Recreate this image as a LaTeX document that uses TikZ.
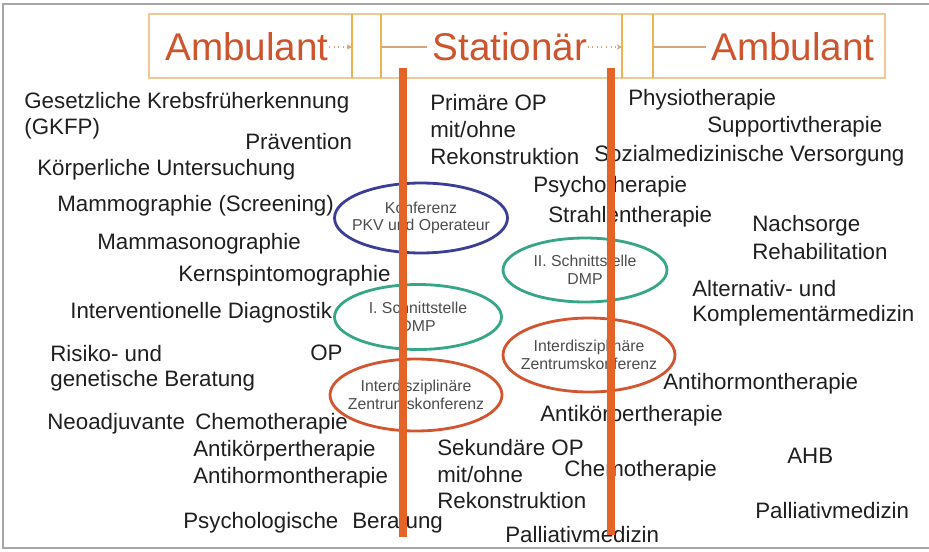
\documentclass[tikz,border=0pt]{standalone}
\usepackage{fontspec}
\setmainfont{Liberation Sans}
\usetikzlibrary{shapes.geometric,arrows.meta}

\definecolor{hdrred}{RGB}{205,85,45}
\definecolor{barorange}{RGB}{228,100,40}
\definecolor{boxline}{RGB}{242,200,150}
\definecolor{sepline}{RGB}{238,178,80}
\definecolor{konfblue}{RGB}{60,62,150}
\definecolor{dmpgreen}{RGB}{55,165,135}
\definecolor{zentred}{RGB}{210,85,50}

\tikzset{
  item/.style={anchor=west, inner sep=0pt, font=\fontsize{12.7}{14}\selectfont, text=black!88},
  hdr/.style={inner sep=0pt, font=\fontsize{22}{24}\selectfont, text=hdrred},
  conf/.style={ellipse, draw, line width=1.6pt, inner xsep=-6pt, inner ysep=0pt, align=center,
    font=\fontsize{9}{10}\selectfont, text=black!70},
  hdrline/.style={draw=orange!50!gray!70, line width=0.6pt},
}

\begin{document}
\begin{tikzpicture}[x=0.02cm, y=-0.02cm]
    \useasboundingbox (0,0) rectangle (929,551);
    % frame
    \draw[gray!70, line width=0.8pt] (929,4) -- (3,4) -- (3,548) -- (929,548);

    % header box
    \node[draw=boxline, line width=0.8pt, minimum width=14.72cm, minimum height=1.28cm] (header) at (517,46) {};
    \foreach \x/\n in {352/s1, 381/s2, 622/s3, 653/s4} {
        \draw[sepline, line width=1pt] (\x,14) -- (\x,78);
        \coordinate (\n) at (\x,47);
    }
    \node[hdr] (ambL) at (247,47) {Ambulant};
    \node[hdr] (stat) at (510,47) {Stationär};
    \node[hdr] (ambR) at (793,47) {Ambulant};
    \draw[hdrline, dotted, -{Stealth[length=3pt,width=3pt]}] (ambL.east) -- (s1);
    \draw[hdrline] (s2) -- ([xshift=-3pt]stat.west);
    \draw[hdrline, dotted, -{Stealth[length=3pt,width=3pt]}] (stat.east) -- (s3);
    \draw[hdrline] (s4) -- ([xshift=-3pt]ambR.west);

    % ellipses
    \node[conf, draw=konfblue, minimum width=3.46cm, minimum height=1.4cm] (konf) at (421,218) {Konferenz\\PKV und Operateur};
    \node[conf, draw=dmpgreen, minimum width=3.34cm, minimum height=1.3cm] (dmpI) at (418,317) {I. Schnittstelle\\DMP};
    \node[conf, draw=zentred, minimum width=3.44cm, minimum height=1.44cm] (zentL) at (416,395) {Interdisziplinäre\\Zentrumskonferenz};
    \node[conf, draw=dmpgreen, minimum width=3.28cm, minimum height=1.28cm] (dmpII) at (585,270) {II. Schnittstelle\\DMP};
    \node[conf, draw=zentred, minimum width=3.44cm, minimum height=1.48cm] (zentR) at (589,355) {Interdisziplinäre\\Zentrumskonferenz};

    % left column
    \foreach \x/\y/\t [count=\i] in {24/103/{Gesetzliche Krebsfrüherkennung}, 24/129/{(GKFP)},
        245/142/{Prävention}, 37/170/{Körperliche Untersuchung}, 57/206/{Mammographie (Screening)},
        97/244/{Mammasonographie}, 178/276/{Kernspintomographie}, 70/313/{Interventionelle Diagnostik},
        50/354/{Risiko- und}, 310/353/{OP}, 50/381/{genetische Beratung}, 47/424/{Neoadjuvante},
        195/424/{Chemotherapie}, 193/451/{Antikörpertherapie}, 193/478/{Antihormontherapie},
        183/523/{Psychologische}, 352/523/{Beratung}} {
        \node[item] (l\i) at (\x,\y) {\t};
    }

    % middle and right column
    \foreach \x/\y/\t [count=\i] in {430/103/{Primäre OP}, 430/130/{mit/ohne}, 430/157/{Rekonstruktion},
        628/100/{Physiotherapie}, 707/127/{Supportivtherapie}, 594/156/{Sozialmedizinische Versorgung},
        533/187/{Psychotherapie}, 548/217/{Strahlentherapie}, 752/226/{Nachsorge}, 752/252/{Rehabilitation},
        692/289/{Alternativ- und}, 692/316/{Komplementärmedizin}, 663/384/{Antihormontherapie},
        540/416/{Antikörpertherapie}, 437/448/{Sekundäre OP}, 437/475/{mit/ohne}, 437/501/{Rekonstruktion},
        564/471/{Chemotherapie}, 787/456/{AHB}, 755/511/{Palliativmedizin}, 505/535/{Palliativmedizin}} {
        \node[item] (r\i) at (\x,\y) {\t};
    }

    % sector bars
    \draw[barorange, line width=4pt] (403,68) -- (403,537);
    \draw[barorange, line width=4pt] (611,68) -- (611,535);
\end{tikzpicture}
\end{document}
